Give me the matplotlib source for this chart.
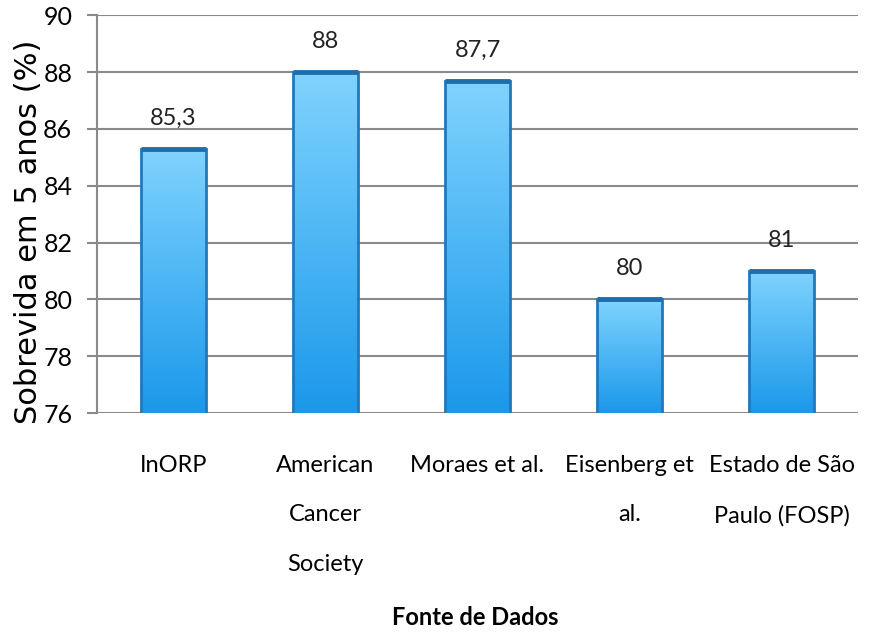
import numpy as np
import matplotlib.pyplot as plt
from matplotlib.colors import LinearSegmentedColormap

categories = ['InORP', 'American\nCancer\nSociety', 'Moraes et al.',
              'Eisenberg et\nal.', 'Estado de São\nPaulo (FOSP)']
survival = [85.3, 88, 87.7, 80, 81]
value_labels = ['85,3', '88', '87,7', '80', '81']

fig = plt.figure(figsize=(8.69, 6.32), dpi=100)
ax = fig.add_axes([0.112, 0.3465, 0.875, 0.6295])

x = np.arange(len(categories))
bars = ax.bar(x, survival, width=0.43, color='none',
              edgecolor='#2478ba', linewidth=2, zorder=3)

# vertical gradient inside each bar, light at top
cmap = LinearSegmentedColormap.from_list('bar', ['#1b98ea', '#4cb6f5', '#80d3fd'])
grad = np.linspace(0, 1, 256).reshape(-1, 1)
for b in bars:
    x0, w, h = b.get_x(), b.get_width(), b.get_height()
    im = ax.imshow(grad, extent=[x0, x0 + w, 76, h], origin='lower',
                   aspect='auto', cmap=cmap, zorder=2)
    im.set_clip_path(b)
    # darker cap on top of the bar
    ax.plot([x0, x0 + w], [h, h], color='#1f6eab', lw=3.5, zorder=4,
            solid_capstyle='butt')

for xi, v, lab in zip(x, survival, value_labels):
    ax.text(xi, v + 0.7, lab, ha='center', va='bottom', fontsize=17,
            family='Lato', color='#222222')

ax.set_ylim(76, 90)
ax.set_xlim(-0.5, len(categories) - 0.5)
ax.set_yticks(range(76, 91, 2))
ax.yaxis.grid(True, color='#8a8a8a', lw=1.5, zorder=0)
ax.set_axisbelow(True)
for s in ['top', 'right', 'bottom']:
    ax.spines[s].set_visible(False)
ax.spines['left'].set_color('#8a8a8a')
ax.spines['left'].set_linewidth(1.5)
ax.tick_params(axis='y', length=7, width=1.5, color='#8a8a8a',
               labelsize=18, pad=11)
ax.tick_params(axis='x', length=0, pad=30)
ax.set_xticks(x)
ax.set_xticklabels(categories, fontsize=17, family='Lato', linespacing=2.68,
                   va='top')
for t in ax.get_yticklabels():
    t.set_family('Lato')

ax.set_ylabel('Sobrevida em 5 anos (%)', fontsize=22, family='DejaVu Sans')
ax.yaxis.set_label_coords(-0.072, 0.455)
fig.text(0.547, 0.005, 'Fonte de Dados', ha='center', va='bottom',
         fontsize=17, family='Lato', fontweight='bold')

fig.savefig('out.png', dpi=100)
